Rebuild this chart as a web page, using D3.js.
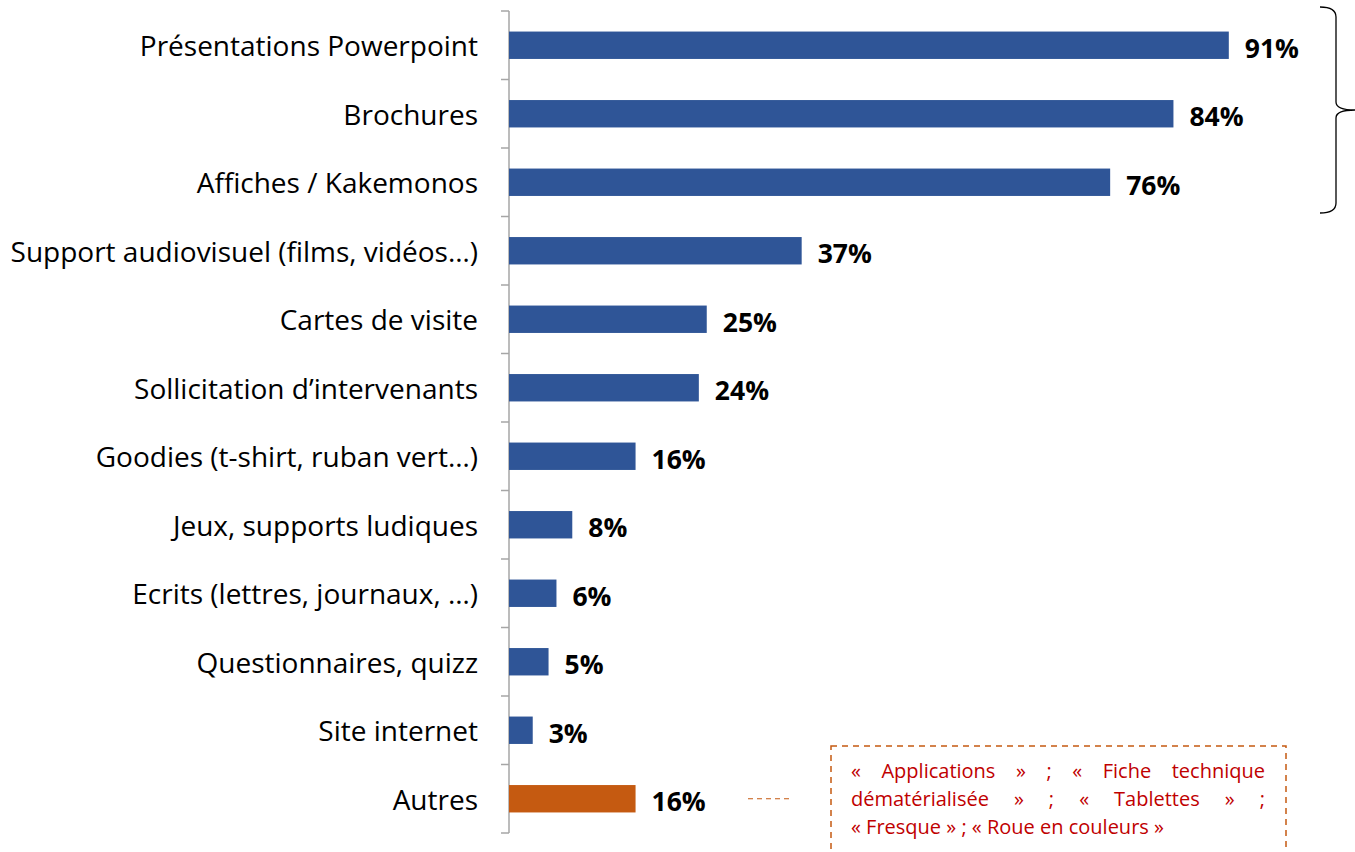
<!DOCTYPE html>
<html lang="fr">
<head>
<meta charset="utf-8">
<title>Supports utilisés</title>
<script src="https://cdn.jsdelivr.net/npm/d3@7"></script>
<style>
  body { margin: 0; background: #fff; }
  svg text { font-family: "Open Sans", "Noto Sans", sans-serif; }
  .note div { font-family: "Open Sans", sans-serif; font-size: 20px; color: #C00000;
          text-align: justify; text-align-last: justify; line-height: 28px; white-space: nowrap; }
  .note div.last { text-align-last: left; }
</style>
</head>
<body>
<script>
// data
var categories = ["Présentations Powerpoint", "Brochures", "Affiches / Kakemonos",
  "Support audiovisuel (films, vidéos…)", "Cartes de visite", "Sollicitation d’intervenants",
  "Goodies (t-shirt, ruban vert…)", "Jeux, supports ludiques", "Ecrits (lettres, journaux, …)",
  "Questionnaires, quizz", "Site internet", "Autres"];
var values = [91, 84, 76, 37, 25, 24, 16, 8, 6, 5, 3, 16];
var highlight = ["Autres"];
var noteLines = ["« Applications » ; « Fiche technique",
  "dématérialisée » ; « Tablettes » ;",
  "« Fresque » ; « Roue en couleurs »"];

var w = 1355, h = 852;
var svg = d3.select("body").append("svg").attr("width", w).attr("height", h);

var x = d3.scaleLinear().domain([0, 100]).range([509, 1300]);
var y = d3.scaleBand().domain(categories).range([11, 833]).paddingInner(0.6).paddingOuter(0.3);

// axis line with ticks between categories
svg.append("line")
  .attr("x1", 509).attr("x2", 509).attr("y1", 11).attr("y2", 833)
  .attr("stroke", "#a6a6a6").attr("stroke-width", 1.5);
d3.range(categories.length + 1).forEach(function(i) {
  var yy = 11 + i * (822 / categories.length);
  svg.append("line").attr("x1", 501).attr("x2", 509).attr("y1", yy).attr("y2", yy)
    .attr("stroke", "#a6a6a6").attr("stroke-width", 1.5);
});

svg.selectAll("rect.bar")
  .data(values)
  .enter().append("rect")
  .attr("class", "bar")
  .attr("x", x(0))
  .attr("y", function(d, i) { return y(categories[i]); })
  .attr("width", function(d) { return x(d) - x(0); })
  .attr("height", y.bandwidth())
  .attr("fill", function(d, i) { return highlight.indexOf(categories[i]) >= 0 ? "#C55A11" : "#2F5597"; });

// category labels
svg.selectAll("text.cat")
  .data(categories)
  .enter().append("text")
  .attr("class", "cat")
  .attr("x", 478)
  .attr("y", function(d) { return y(d) + y.bandwidth() / 2 + 1; })
  .attr("dy", "0.35em")
  .attr("text-anchor", "end")
  .attr("font-size", 28)
  .attr("fill", "#000")
  .text(function(d) { return d; });

// value labels
svg.selectAll("text.val")
  .data(values)
  .enter().append("text")
  .attr("class", "val")
  .attr("x", function(d) { return x(d) + 16; })
  .attr("y", function(d, i) { return y(categories[i]) + y.bandwidth() / 2 + 3; })
  .attr("dy", "0.35em")
  .attr("font-size", 26.5)
  .attr("font-weight", "bold")
  .attr("fill", "#000")
  .text(function(d) { return d + "%"; });

// brace around the top three bars
var bTop = 7, bBot = 213, bx = 1336, mid = (bTop + bBot) / 2;
svg.append("path")
  .attr("d", "M1320," + bTop + " Q" + bx + "," + bTop + " " + bx + "," + (bTop + 10) +
    " L" + bx + "," + (mid - 8) + " Q" + bx + "," + mid + " 1355," + mid +
    " Q" + bx + "," + mid + " " + bx + "," + (mid + 8) +
    " L" + bx + "," + (bBot - 10) + " Q" + bx + "," + bBot + " 1320," + bBot)
  .attr("fill", "none").attr("stroke", "#000").attr("stroke-width", 1.3);

// note for "Autres"
var ay = y("Autres") + y.bandwidth() / 2;
svg.append("line").attr("x1", 748).attr("x2", 790).attr("y1", ay).attr("y2", ay)
  .attr("stroke", "#C55A11").attr("stroke-width", 1.2).attr("stroke-dasharray", "5,4");
svg.append("rect").attr("x", 831).attr("y", 746).attr("width", 455).attr("height", 130)
  .attr("fill", "none").attr("stroke", "#C55A11").attr("stroke-width", 1.5).attr("stroke-dasharray", "6,5");
svg.append("foreignObject").attr("x", 851).attr("y", 757).attr("width", 414).attr("height", 95)
  .append("xhtml:div").attr("class", "note")
  .selectAll("div").data(noteLines).enter().append("xhtml:div")
  .attr("class", function(d, i) { return i === noteLines.length - 1 ? "last" : null; })
  .text(function(d) { return d; });
</script>
</body>
</html>
